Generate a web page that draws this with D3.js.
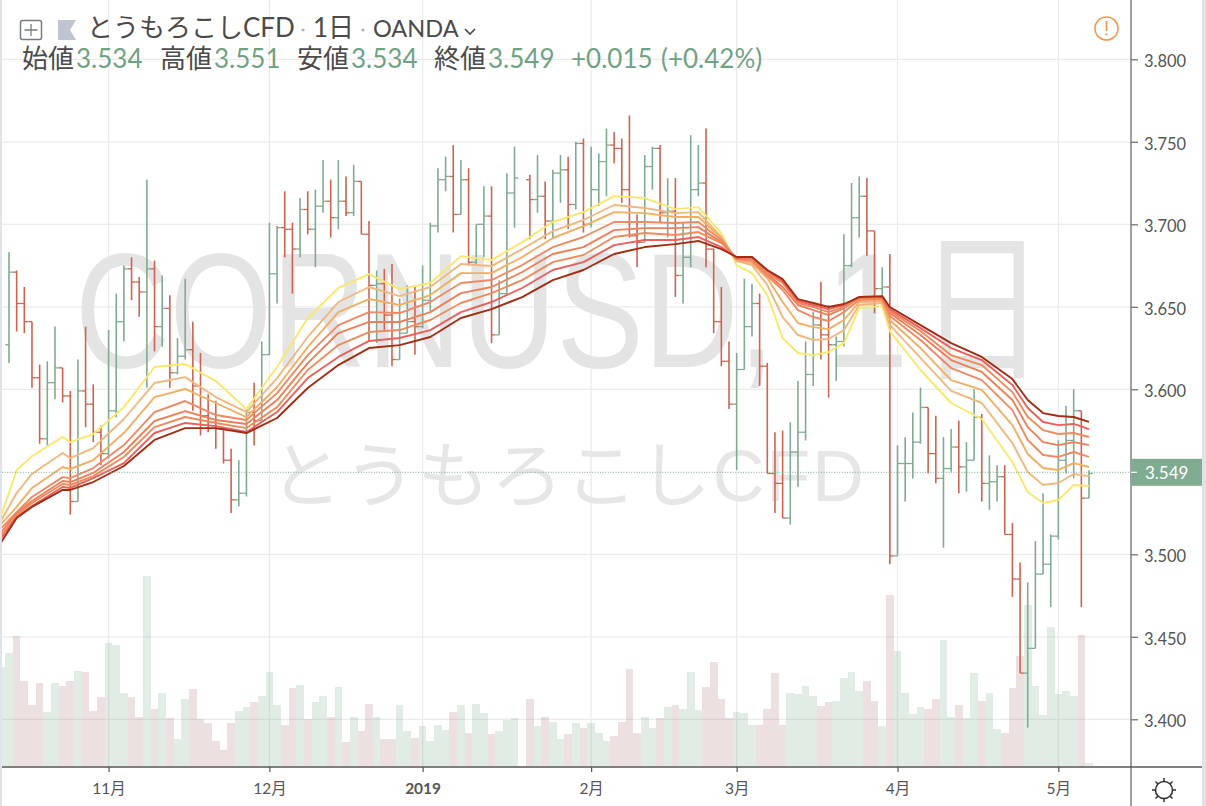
<!DOCTYPE html>
<html lang="ja">
<head>
<meta charset="UTF-8">
<title>とうもろこしCFD 1日 OANDA</title>
<script src="https://d3js.org/d3.v7.min.js"></script>
<style>
    html, body { margin: 0; padding: 0; background: #fff; overflow: hidden; }
    svg { display: block; }
    text { font-family: Lato, "Noto Sans CJK JP", sans-serif; }
</style>
</head>
<body>
<svg id="chart" width="1206" height="806"></svg>
<script>
    // day -1 is the bar cut off by the left edge, day 67 is a market holiday (no bar)
    const days = d3.range(-1, 142);

    const openPrices = [null,
        3.627,3.671,3.652,3.641,3.607,3.570,3.604,3.613,3.596,3.532,
        3.599,3.591,3.574,3.561,3.587,3.641,3.673,3.665,3.659,3.673,
        3.638,3.649,3.610,3.620,3.624,3.602,3.584,3.580,3.576,3.557,
        3.533,3.537,3.586,3.581,3.621,3.670,3.698,3.697,3.685,3.709,
        3.697,3.711,3.714,3.704,3.714,3.707,3.726,3.694,3.663,3.664,
        3.645,3.618,3.634,3.641,3.638,3.654,3.699,3.727,3.729,3.706,
        3.727,3.677,3.700,3.705,3.633,3.658,3.719,null,3.727,3.715,
        3.717,3.702,3.731,3.733,3.712,3.749,3.700,3.721,3.738,3.748,
        3.746,3.721,3.693,3.689,3.735,3.746,3.707,3.708,3.669,3.680,
        3.721,3.725,3.685,3.641,3.617,3.591,3.612,3.638,3.652,3.614,
        3.549,3.543,3.522,3.562,3.574,3.609,3.639,3.633,3.627,3.629,
        3.675,3.704,3.717,3.696,3.661,3.662,3.499,3.555,3.555,3.568,
        3.589,3.561,3.546,3.552,3.565,3.553,3.557,3.583,3.543,3.544,
        3.547,3.512,3.485,3.428,3.443,3.488,3.494,3.511,3.557,3.569,
        3.587,3.534];
    const highPrices = [null,
        3.683,3.672,3.662,3.641,3.615,3.617,3.638,3.613,3.599,3.618,
        3.638,3.603,3.578,3.636,3.658,3.675,3.680,3.668,3.727,3.678,
        3.669,3.657,3.631,3.667,3.641,3.622,3.597,3.593,3.577,3.564,
        3.557,3.588,3.604,3.629,3.701,3.699,3.720,3.701,3.716,3.720,
        3.721,3.739,3.727,3.739,3.729,3.736,3.726,3.702,3.672,3.673,
        3.676,3.655,3.663,3.662,3.675,3.701,3.734,3.741,3.748,3.739,
        3.734,3.700,3.723,3.723,3.666,3.731,3.747,null,3.730,3.742,
        3.726,3.733,3.742,3.741,3.750,3.752,3.747,3.743,3.758,3.756,
        3.752,3.766,3.706,3.742,3.747,3.748,3.728,3.728,3.701,3.754,
        3.748,3.758,3.685,3.662,3.629,3.622,3.667,3.664,3.658,3.616,
        3.574,3.575,3.580,3.605,3.629,3.647,3.665,3.651,3.632,3.694,
        3.725,3.729,3.728,3.696,3.674,3.682,3.566,3.571,3.586,3.601,
        3.589,3.584,3.571,3.576,3.581,3.568,3.600,3.585,3.560,3.554,
        3.554,3.519,3.495,3.483,3.508,3.537,3.512,3.569,3.590,3.600,
        3.587,3.551];
    const lowPrices = [null,
        3.616,3.635,3.634,3.601,3.567,3.566,3.594,3.592,3.524,3.532,
        3.577,3.568,3.554,3.558,3.583,3.629,3.654,3.644,3.601,3.623,
        3.626,3.601,3.609,3.618,3.587,3.572,3.574,3.564,3.555,3.525,
        3.529,3.535,3.566,3.581,3.621,3.652,3.680,3.658,3.680,3.694,
        3.674,3.707,3.692,3.697,3.705,3.705,3.694,3.629,3.628,3.636,
        3.614,3.618,3.634,3.621,3.637,3.647,3.695,3.720,3.695,3.706,
        3.675,3.675,3.680,3.628,3.633,3.658,3.698,null,3.691,3.707,
        3.691,3.691,3.713,3.697,3.709,3.695,3.698,3.711,3.717,3.737,
        3.713,3.692,3.674,3.689,3.721,3.701,3.692,3.656,3.652,3.674,
        3.717,3.674,3.634,3.614,3.588,3.551,3.612,3.632,3.602,3.549,
        3.525,3.522,3.518,3.541,3.569,3.602,3.618,3.595,3.605,3.626,
        3.674,3.692,3.681,3.646,3.651,3.494,3.499,3.532,3.546,3.567,
        3.549,3.543,3.504,3.550,3.537,3.538,3.557,3.532,3.527,3.532,
        3.512,3.474,3.428,3.395,3.443,3.488,3.468,3.509,3.549,3.546,
        3.468,3.534];
    const closePrices = [null,
        3.671,3.652,3.641,3.607,3.570,3.604,3.613,3.596,3.532,3.599,
        3.591,3.574,3.561,3.587,3.641,3.673,3.665,3.659,3.673,3.638,
        3.649,3.610,3.620,3.624,3.602,3.584,3.580,3.576,3.557,3.533,
        3.537,3.586,3.581,3.621,3.670,3.698,3.697,3.685,3.709,3.697,
        3.711,3.714,3.704,3.714,3.707,3.726,3.694,3.663,3.664,3.645,
        3.618,3.634,3.641,3.638,3.654,3.699,3.727,3.729,3.706,3.727,
        3.677,3.700,3.705,3.633,3.658,3.719,3.728,null,3.715,3.717,
        3.702,3.731,3.733,3.712,3.749,3.700,3.721,3.738,3.748,3.746,
        3.721,3.693,3.689,3.735,3.746,3.707,3.708,3.669,3.680,3.721,
        3.725,3.685,3.641,3.617,3.591,3.612,3.638,3.652,3.614,3.549,
        3.543,3.522,3.562,3.574,3.609,3.639,3.633,3.627,3.629,3.675,
        3.704,3.717,3.696,3.661,3.662,3.499,3.555,3.555,3.568,3.589,
        3.561,3.546,3.552,3.565,3.553,3.557,3.583,3.543,3.544,3.547,
        3.512,3.485,3.428,3.443,3.488,3.494,3.511,3.557,3.569,3.587,
        3.534,3.549];
    const volumes = [99,
        113,130,85,61,83,54,83,80,85,95,
        94,55,69,123,121,73,69,49,190,57,
        73,48,27,67,77,47,43,25,16,43,
        55,59,64,70,94,61,41,78,81,47,
        64,70,49,79,24,49,35,62,49,27,
        27,61,35,28,40,25,41,36,54,61,
        33,62,53,32,35,46,48,null,67,40,
        49,44,27,32,43,38,43,33,25,30,
        44,97,33,49,38,48,59,61,57,94,
        56,79,104,67,48,54,53,41,41,57,
        93,41,73,72,80,70,60,64,65,88,
        94,75,85,65,40,171,115,73,52,59,
        57,67,126,49,61,48,93,65,73,37,
        33,78,110,161,80,51,139,72,75,70,
        131,3];

    const ribbonDays = [-1,1,3,7,8,11,15,19,23,27,31,35,39,43,47,51,55,59,63,67,71,75,79,83,87,90,93,95,97,99,101,103,105,107,109,111,114,115,119,123,127,131,133,135,137,139,141];
    const ribbon1 = [3.5238,3.5511,3.5595,3.5711,3.5680,3.5729,3.5892,3.6135,3.6153,3.6050,3.5880,3.6135,3.6432,3.6614,3.6698,3.6607,3.6644,3.6807,3.6783,3.6892,3.7014,3.7074,3.7171,3.7159,3.7092,3.7104,3.6947,3.6753,3.6704,3.6571,3.6311,3.6220,3.6207,3.6226,3.6280,3.6492,3.6504,3.6353,3.6117,3.5917,3.5820,3.5559,3.5377,3.5311,3.5329,3.5420,3.5414];
    const ribbon2 = [3.5208,3.5371,3.5487,3.5614,3.5583,3.5644,3.5820,3.6038,3.6074,3.5953,3.5862,3.6068,3.6317,3.6529,3.6620,3.6565,3.6620,3.6759,3.6747,3.6850,3.6959,3.7026,3.7117,3.7099,3.7068,3.7074,3.6923,3.6777,3.6753,3.6632,3.6438,3.6329,3.6299,3.6305,3.6359,3.6511,3.6523,3.6389,3.6190,3.5990,3.5917,3.5674,3.5499,3.5420,3.5432,3.5487,3.5474];
    const ribbon3 = [3.5184,3.5287,3.5402,3.5529,3.5517,3.5571,3.5735,3.5953,3.6002,3.5917,3.5832,3.6014,3.6256,3.6468,3.6547,3.6511,3.6571,3.6704,3.6704,3.6802,3.6917,3.6989,3.7074,3.7068,3.7044,3.7044,3.6917,3.6783,3.6765,3.6674,3.6529,3.6402,3.6377,3.6365,3.6420,3.6529,3.6535,3.6420,3.6250,3.6056,3.5996,3.5783,3.5608,3.5523,3.5511,3.5553,3.5529];
    const ribbon4 = [3.5159,3.5256,3.5347,3.5468,3.5462,3.5523,3.5662,3.5862,3.5929,3.5844,3.5814,3.5977,3.6207,3.6389,3.6468,3.6462,3.6529,3.6644,3.6662,3.6753,3.6862,3.6923,3.7014,3.7014,3.7008,3.7014,3.6905,3.6789,3.6777,3.6686,3.6602,3.6480,3.6438,3.6414,3.6468,3.6541,3.6547,3.6444,3.6299,3.6129,3.6056,3.5874,3.5693,3.5602,3.5590,3.5620,3.5590];
    const ribbon5 = [3.5135,3.5250,3.5323,3.5444,3.5438,3.5493,3.5620,3.5808,3.5868,3.5814,3.5790,3.5935,3.6159,3.6341,3.6408,3.6408,3.6468,3.6583,3.6620,3.6711,3.6820,3.6862,3.6965,3.6977,3.6977,3.6983,3.6892,3.6789,3.6789,3.6698,3.6620,3.6511,3.6480,3.6450,3.6492,3.6553,3.6553,3.6462,3.6329,3.6177,3.6105,3.5935,3.5771,3.5680,3.5662,3.5680,3.5662];
    const ribbon6 = [3.5117,3.5238,3.5311,3.5426,3.5420,3.5474,3.5590,3.5771,3.5832,3.5796,3.5765,3.5892,3.6117,3.6268,3.6347,3.6359,3.6420,3.6523,3.6583,3.6662,3.6771,3.6814,3.6923,3.6947,3.6935,3.6953,3.6886,3.6796,3.6796,3.6704,3.6644,3.6523,3.6499,3.6468,3.6499,3.6559,3.6559,3.6474,3.6353,3.6207,3.6147,3.5983,3.5832,3.5753,3.5729,3.5735,3.5711];
    const ribbon7 = [3.5099,3.5226,3.5293,3.5408,3.5402,3.5462,3.5553,3.5735,3.5796,3.5777,3.5741,3.5862,3.6068,3.6196,3.6293,3.6311,3.6359,3.6468,3.6529,3.6614,3.6723,3.6771,3.6874,3.6905,3.6905,3.6923,3.6862,3.6796,3.6802,3.6717,3.6656,3.6535,3.6511,3.6486,3.6511,3.6559,3.6559,3.6486,3.6371,3.6250,3.6177,3.6026,3.5887,3.5802,3.5783,3.5790,3.5759];
    const ribbon8 = [3.5074,3.5220,3.5287,3.5390,3.5390,3.5438,3.5535,3.5693,3.5765,3.5765,3.5735,3.5826,3.6008,3.6147,3.6250,3.6268,3.6317,3.6432,3.6486,3.6559,3.6662,3.6723,3.6820,3.6862,3.6880,3.6899,3.6850,3.6802,3.6802,3.6723,3.6668,3.6547,3.6523,3.6499,3.6517,3.6559,3.6565,3.6499,3.6389,3.6280,3.6196,3.6062,3.5935,3.5856,3.5838,3.5832,3.5802];
    const ribbons = [ribbon1, ribbon2, ribbon3, ribbon4, ribbon5, ribbon6, ribbon7, ribbon8];
    const ribbonColors = ["#f7e86c", "#efb880", "#f3ae62", "#ee8a63", "#ef7f58", "#ee8b5c", "#eb5f5c", "#a32c12"];

    const priceTicks = [3.4, 3.45, 3.5, 3.6, 3.65, 3.7, 3.75, 3.8];
    const monthDays = [13, 34, 54, 76, 95, 116, 137];
    const monthLabels = ["11月", "12月", "2019", "2月", "3月", "4月", "5月"];
    const lastPrice = 3.5497, lastPriceLabel = "3.549";

    const headerTitle = [
        {t: "とうもろこしCFD", x: 87, size: 26},
        {t: "1日", x: 313, size: 26},
        {t: "OANDA", x: 373, size: 23.5}
    ];
    const headerValues = [
        {t: "始値", x: 22, v: "3.534", vx: 76},
        {t: "高値", x: 160, v: "3.551", vx: 214},
        {t: "安値", x: 297, v: "3.534", vx: 351},
        {t: "終値", x: 434, v: "3.549", vx: 488}
    ];
    const watermarkParts = [
        {t: "CORNUSD,", x: 75, len: 700},
        {t: "1", x: 824, len: 85},
        {t: "日", x: 919, len: 126}
    ];

    const green = "#7fab90", red = "#cc6450";
    const watermarkFont = '"Liberation Sans", "Noto Sans CJK JP", sans-serif';
    const svg = d3.select("#chart");

    const x = d3.scaleLinear().domain([-1, 141]).range([1.34, 1089]);
    const y = d3.scaleLinear().domain([3.4, 3.8]).range([719.3, 59.3]);
    const yVol = d3.scaleLinear().domain([0, 190]).range([766, 576]);
    const step = x(1) - x(0);
    const plotLeft = 2, plotRight = 1131, plotBottom = 767;

    // grid
    const grid = svg.append("g").attr("stroke", "#ebebeb").attr("stroke-width", 1.3);
    grid.selectAll(".h").data(priceTicks).join("line")
        .attr("x1", plotLeft).attr("x2", plotRight)
        .attr("y1", d => y(d)).attr("y2", d => y(d));
    grid.selectAll(".v").data(monthDays).join("line")
        .attr("x1", d => x(d)).attr("x2", d => x(d))
        .attr("y1", 0).attr("y2", plotBottom);

    // watermark
    svg.selectAll(".watermark").data(watermarkParts).join("text")
        .attr("x", d => d.x).attr("y", 367)
        .attr("font-size", 163).attr("fill", "#e4e4e4")
        .style("font-family", watermarkFont)
        .attr("textLength", d => d.len).attr("lengthAdjust", "spacingAndGlyphs")
        .text(d => d.t);
    svg.append("text").attr("x", 270).attr("y", 501)
        .attr("font-size", 72).attr("fill", "#e6e6e6")
        .style("font-family", watermarkFont)
        .attr("textLength", 594).attr("lengthAdjust", "spacing")
        .text("とうもろこしCFD");

    // volume
    const isUp = i => closePrices[i] === null || closePrices[i] >= openPrices[i];
    svg.append("g").attr("shape-rendering", "crispEdges")
        .selectAll("rect").data(days.filter((d, i) => volumes[i] !== null)).join("rect")
        .attr("x", d => x(d) - step / 2)
        .attr("width", step)
        .attr("y", d => yVol(volumes[d + 1]))
        .attr("height", d => yVol(0) - yVol(volumes[d + 1]))
        .attr("fill", d => isUp(d + 1) ? "rgba(104,160,118,.2)" : "rgba(160,100,100,.2)");

    // open-high-low-close bars
    const bars = svg.append("g").selectAll("g")
        .data(days.filter((d, i) => closePrices[i] !== null)).join("g")
        .attr("stroke", d => isUp(d + 1) ? green : red)
        .attr("stroke-width", 1.6);
    bars.append("line")
        .attr("x1", d => x(d)).attr("x2", d => x(d))
        .attr("y1", d => y(highPrices[d + 1])).attr("y2", d => y(lowPrices[d + 1]));
    bars.append("line").attr("stroke-width", 1.3)
        .attr("x1", d => x(d) - step / 2).attr("x2", d => x(d))
        .attr("y1", d => y(openPrices[d + 1])).attr("y2", d => y(openPrices[d + 1]));
    bars.append("line").attr("stroke-width", 1.3)
        .attr("x1", d => x(d)).attr("x2", d => x(d) + step / 2)
        .attr("y1", d => y(closePrices[d + 1])).attr("y2", d => y(closePrices[d + 1]));

    // ribbon
    const ribbonLine = d3.line()
        .x((d, i) => x(ribbonDays[i]))
        .y(d => y(d));
    svg.append("g").attr("fill", "none").attr("stroke-width", 1.9).attr("stroke-linejoin", "round")
        .selectAll("path").data(ribbons).join("path")
        .attr("d", ribbonLine)
        .attr("stroke", (d, i) => ribbonColors[i]);

    // last price line
    svg.append("line")
        .attr("x1", plotLeft).attr("x2", plotRight)
        .attr("y1", y(lastPrice)).attr("y2", y(lastPrice))
        .attr("stroke", green).attr("stroke-dasharray", "1 1.6");

    // frame strips
    svg.append("rect").attr("x", 0).attr("y", 0).attr("width", 2).attr("height", 806).attr("fill", "#e0e3eb");
    svg.append("rect").attr("x", 1202).attr("y", 0).attr("width", 4).attr("height", 806).attr("fill", "#e0e3eb");

    // price axis
    const yAxis = svg.append("g").attr("transform", `translate(${plotRight},0)`)
        .call(d3.axisRight(y).tickValues(priceTicks).tickFormat(d3.format(".3f")).tickSize(7).tickPadding(6));
    yAxis.select(".domain").remove();
    yAxis.selectAll(".tick line").attr("stroke", "#6a6a6a").attr("stroke-width", 1.2);
    yAxis.selectAll("text").attr("font-size", 16.5).attr("fill", "#555")
        .attr("dy", "0.45em")
        .style("font-family", 'Lato, "Noto Sans CJK JP", sans-serif');
    svg.append("line").attr("x1", plotRight).attr("x2", plotRight).attr("y1", 0).attr("y2", 806)
        .attr("stroke", "#787878").attr("stroke-width", 1.4);

    // time axis
    const xAxis = svg.append("g").attr("transform", `translate(0,${plotBottom})`)
        .call(d3.axisBottom(x).tickValues(monthDays).tickFormat((d, i) => monthLabels[i]).tickSize(5).tickPadding(11));
    xAxis.select(".domain").remove();
    xAxis.selectAll(".tick line").attr("stroke", "#555").attr("stroke-width", 1.2);
    xAxis.selectAll("text").attr("font-size", 15.5).attr("fill", "#555")
        .attr("font-weight", (d, i) => monthLabels[i] === "2019" ? 700 : 400)
        .style("font-family", 'Lato, "Noto Sans CJK JP", sans-serif');
    svg.append("line").attr("x1", plotLeft).attr("x2", 1202).attr("y1", plotBottom).attr("y2", plotBottom)
        .attr("stroke", "#555").attr("stroke-width", 1.6);

    // last price label
    const lastLabel = svg.append("g").attr("transform", `translate(${plotRight},${y(lastPrice)})`);
    lastLabel.append("rect").attr("x", 0).attr("y", -13.5).attr("width", 71).attr("height", 27).attr("fill", green);
    lastLabel.append("line").attr("x1", 0).attr("x2", 6).attr("stroke", "#fff").attr("stroke-width", 1.2);
    lastLabel.append("text").attr("x", 14).attr("y", 6.5).attr("font-size", 17).attr("fill", "#fff").text(lastPriceLabel);

    // header
    svg.selectAll(".title").data(headerTitle).join("text")
        .attr("x", d => d.x).attr("y", 37).attr("font-size", d => d.size).attr("fill", "#4b4b4b")
        .text(d => d.t);
    svg.selectAll(".dot").data([303, 363]).join("circle")
        .attr("cx", d => d).attr("cy", 30).attr("r", 1.6).attr("fill", "#b0b3bd");
    svg.append("path").attr("d", "M465 29l5 5 5-5").attr("fill", "none").attr("stroke", "#4b4b4b").attr("stroke-width", 1.7);
    headerValues.forEach(d => {
        svg.append("text").attr("x", d.x).attr("y", 68).attr("font-size", 26).attr("fill", "#4b4b4b").text(d.t);
        svg.append("text").attr("x", d.vx).attr("y", 68).attr("font-size", 26).attr("fill", "#6fa283").text(d.v);
    });
    svg.append("text").attr("x", 571).attr("y", 68).attr("font-size", 26).attr("fill", "#6fa283").text("+0.015");
    svg.append("text").attr("x", 661).attr("y", 68).attr("font-size", 26).attr("fill", "#6fa283").text("(+0.42%)");

    // plus box, flag
    svg.append("rect").attr("x", 20.5).attr("y", 20.5).attr("width", 21).attr("height", 19).attr("rx", 2)
        .attr("fill", "none").attr("stroke", "#777b85").attr("stroke-width", 1.5);
    svg.append("path").attr("d", "M31 24v12M24.5 30h13").attr("stroke", "#777b85").attr("stroke-width", 1.3);
    svg.append("path").attr("d", "M58 20h18l-6 10 6 10h-18z").attr("fill", "#c0c4d0");

    // warning icon
    svg.append("circle").attr("cx", 1106.5).attr("cy", 28.5).attr("r", 11.5)
        .attr("fill", "none").attr("stroke", "#f5964f").attr("stroke-width", 1.6);
    svg.append("path").attr("d", "M1106.5 21v10M1106.5 33.5v2").attr("stroke", "#f5964f").attr("stroke-width", 1.7);

    // settings sun
    const sun = svg.append("g").attr("transform", "translate(1164,790)").attr("stroke", "#2f2f2f").attr("fill", "none").attr("stroke-width", 1.5);
    sun.append("circle").attr("r", 8.5);
    sun.selectAll("line").data(d3.range(8)).join("line")
        .attr("x1", d => 8.5 * Math.cos(d * Math.PI / 4)).attr("y1", d => 8.5 * Math.sin(d * Math.PI / 4))
        .attr("x2", d => 12 * Math.cos(d * Math.PI / 4)).attr("y2", d => 12 * Math.sin(d * Math.PI / 4));
</script>
</body>
</html>
